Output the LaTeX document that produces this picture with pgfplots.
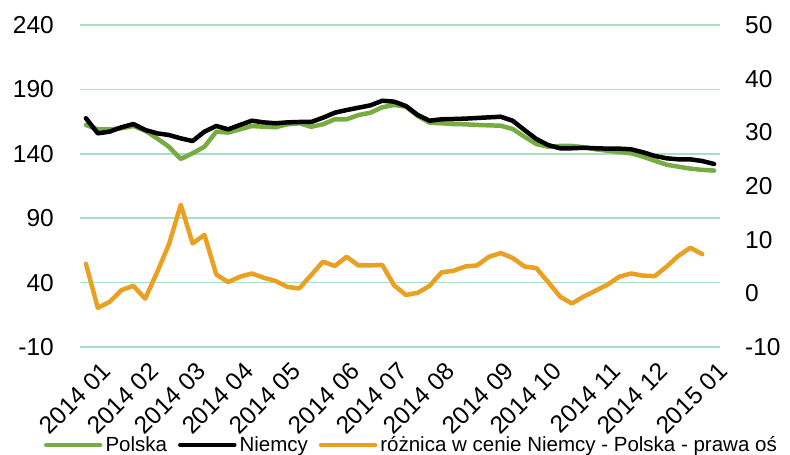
\documentclass[border=0pt]{standalone}
\usepackage{fontspec}
\setmainfont{Liberation Sans}
\usepackage{pgfplots}
\pgfplotsset{compat=1.18}

\definecolor{plgreen}{RGB}{118,172,66}
\definecolor{diforange}{RGB}{233,161,35}
\definecolor{gridgreen}{RGB}{170,222,192}

\newcommand{\tickfont}{\fontsize{24.5bp}{29bp}\selectfont}
\newcommand{\legfont}{\fontsize{20.5bp}{25bp}\selectfont}

\pgfplotsset{
  common/.style={
    scale only axis,
    width=640bp, height=322bp,
    xmin=-0.5, xmax=53.5,
    axis line style={draw=none},
    tick style={draw=none},
    clip=false,
    /pgf/number format/assume math mode=true,
    tick label style={font=\tickfont},
  },
}

\begin{document}
\begin{tikzpicture}
\useasboundingbox (-80bp,-108bp) rectangle (710bp,347bp);

% left axis: Polska, Niemcy
\begin{axis}[common,
  ymin=-10, ymax=240,
  ytick={-10,40,90,140,190,240},
  ymajorgrids,
  grid style={gridgreen, line width=1.6bp},
  yticklabel style={anchor=east, inner sep=0pt, xshift=-26bp},
  xtick={1,5,9,13,17,22,26,30,35,39,44,48,53},
  xticklabels={2014 01,2014 02,2014 03,2014 04,2014 05,2014 06,2014 07,2014 08,2014 09,2014 10,2014 11,2014 12,2015 01},
  xticklabel style={xshift=9bp, yshift=-20bp, rotate=45, anchor=east, inner sep=0pt},
]
\addplot[plgreen, line width=4.5bp, line join=round, line cap=round] table {
x y
0 162.4
1 159.0
2 159.0
3 159.8
4 161.6
5 157.9
6 152.0
7 145.5
8 136.0
9 140.4
10 145.5
11 157.2
12 156.5
13 159.0
14 161.6
15 161.0
16 160.6
17 162.9
18 163.7
19 161.0
20 162.9
21 166.8
22 166.8
23 170.1
24 171.9
25 176.1
26 177.9
27 176.6
28 169.3
29 164.1
30 163.7
31 163.1
32 162.9
33 162.4
34 162.1
35 161.8
36 159.3
37 153.3
38 147.6
39 145.5
40 146.1
41 146.1
42 145.1
43 143.5
44 142.4
45 141.4
46 140.4
47 137.8
48 134.6
49 131.5
50 130.0
51 128.5
52 127.5
53 127.0
};
\addplot[black, line width=4.5bp, line join=round, line cap=round] table {
x y
0 167.6
1 155.9
2 157.2
3 160.6
4 163.1
5 158.5
6 155.9
7 154.6
8 152.0
9 149.9
10 157.2
11 161.6
12 159.0
13 162.4
14 165.7
15 164.4
16 163.7
17 164.4
18 164.7
19 164.7
20 168.0
21 171.9
22 174.0
23 175.8
24 177.6
25 181.2
26 180.5
27 177.1
28 170.1
29 165.7
30 166.8
31 167.0
32 167.3
33 167.8
34 168.3
35 168.8
36 165.7
37 158.5
38 151.5
39 146.8
40 144.3
41 144.3
42 144.7
43 144.3
44 144.0
45 144.0
46 143.5
47 141.2
48 138.3
49 136.5
50 135.7
51 135.7
52 134.4
53 132.1
};
\end{axis}

% right axis: difference
\begin{axis}[common,
  ymin=-10, ymax=50,
  ytick={-10,0,10,20,30,40,50},
  axis y line*=right, axis x line=none,
  yticklabel style={anchor=west, inner sep=0pt, xshift=25bp},
  legend columns=3,
  legend cell align=left,
  legend image code/.code={\draw[#1] (0bp,0bp) -- (54bp,0bp);},
  legend style={at={(0,0)}, anchor=west, xshift=-36bp, yshift=-98bp,
    draw=none, fill=none, inner sep=0pt, outer sep=0pt,
    font=\legfont, nodes={inner sep=0pt},
    /tikz/every odd column/.append style={column sep=3bp},
    /tikz/every even column/.append style={column sep=11bp}},
]
\addlegendimage{plgreen, line width=4.5bp, line cap=round}
\addlegendentry{Polska}
\addlegendimage{black, line width=4.5bp, line cap=round}
\addlegendentry{Niemcy}
\addplot[diforange, line width=4.5bp, line join=round, line cap=round] table {
x y
0 5.5
1 -2.7
2 -1.6
3 0.6
4 1.4
5 -1.0
6 3.9
7 9.1
8 16.5
9 9.3
10 10.9
11 3.5
12 2.1
13 3.1
14 3.7
15 2.9
16 2.3
17 1.2
18 0.9
19 3.4
20 5.9
21 5.1
22 6.8
23 5.2
24 5.2
25 5.3
26 1.5
27 -0.3
28 0.1
29 1.4
30 3.9
31 4.2
32 5.0
33 5.2
34 6.8
35 7.5
36 6.6
37 5.0
38 4.7
39 2.1
40 -0.6
41 -1.9
42 -0.6
43 0.5
44 1.6
45 3.1
46 3.7
47 3.3
48 3.2
49 5.0
50 7.0
51 8.5
52 7.3
};
\addlegendentry{różnica w cenie Niemcy - Polska - prawa oś}
\end{axis}
\end{tikzpicture}
\end{document}
